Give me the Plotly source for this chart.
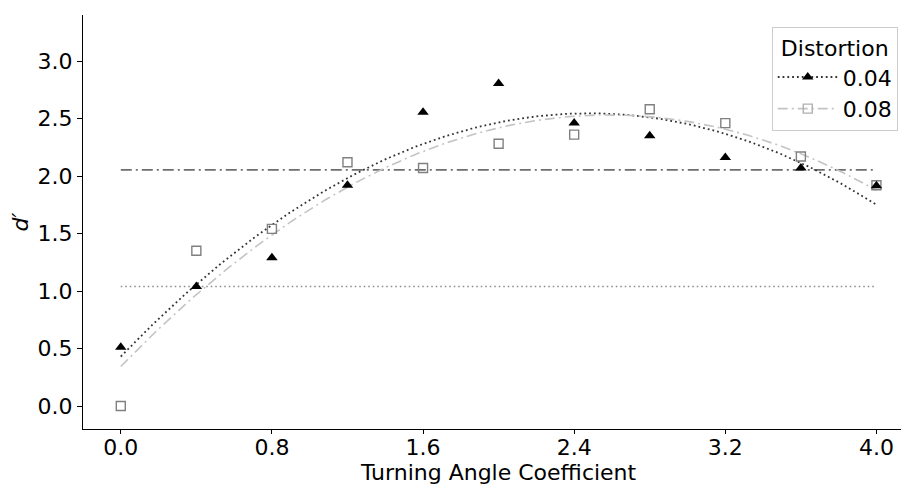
import numpy as np
import plotly.graph_objects as go

x_vals = [0.0, 0.4, 0.8, 1.2, 1.6, 2.0, 2.4, 2.8, 3.2, 3.6, 4.0]
d_004 = [0.51, 1.04, 1.29, 1.92, 2.555, 2.805, 2.46, 2.35, 2.16, 2.07, 1.915]
d_008 = [0.0, 1.35, 1.54, 2.12, 2.07, 2.28, 2.36, 2.58, 2.46, 2.17, 1.92]
series_names = ["0.04", "0.08"]
ref_dashdot_level = 2.053
ref_dotted_level = 1.04
x_ticks = [0.0, 0.8, 1.6, 2.4, 3.2, 4.0]
y_ticks = [0.0, 0.5, 1.0, 1.5, 2.0, 2.5, 3.0]

FONT = "DejaVu Sans"
xs = np.array(x_vals)
xf = np.linspace(xs.min(), xs.max(), 200)
fit1 = np.polyval(np.polyfit(xs, d_004, 2), xf)
fit2 = np.polyval(np.polyfit(xs, d_008, 2), xf)

DOT = "1.8px,3px"
DASHDOT_LIGHT = "10px,4px,2px,4px"

fig = go.Figure()
fig.add_trace(go.Scatter(x=[xs.min(), xs.max()], y=[ref_dashdot_level] * 2, mode="lines",
                         line=dict(color="#6e6e6e", width=1.6, dash="11px,4px,2px,4px"), showlegend=False))
fig.add_trace(go.Scatter(x=[xs.min(), xs.max()], y=[ref_dotted_level] * 2, mode="lines",
                         line=dict(color="#8a8a8a", width=1.5, dash="1.5px,3px"), showlegend=False))
fig.add_trace(go.Scatter(x=xf, y=fit1, mode="lines",
                         line=dict(color="#333333", width=1.8, dash=DOT), showlegend=False))
fig.add_trace(go.Scatter(x=xf, y=fit2, mode="lines",
                         line=dict(color="#c4c4c4", width=1.6, dash=DASHDOT_LIGHT), showlegend=False))
fig.add_trace(go.Scatter(x=xs, y=d_008, mode="markers",
                         marker=dict(symbol="square-open", size=9, color="#808080", line=dict(width=1.4)),
                         showlegend=False))
fig.add_trace(go.Scatter(x=xs, y=d_004, mode="markers",
                         marker=dict(symbol="triangle-up", size=10, color="black"), showlegend=False))
fig.add_trace(go.Scatter(x=[None], y=[None], mode="lines+markers", name=series_names[0],
                         line=dict(color="#333333", width=1.8, dash=DOT),
                         marker=dict(symbol="triangle-up", size=10, color="black")))
fig.add_trace(go.Scatter(x=[None], y=[None], mode="lines+markers", name=series_names[1],
                         line=dict(color="#c4c4c4", width=1.6, dash=DASHDOT_LIGHT),
                         marker=dict(symbol="square-open", size=9, color="#b0b0b0", line=dict(width=1.4))))

fig.add_annotation(text="Turning Angle Coefficient", xref="paper", yref="paper",
                   x=0.508, y=-0.071, xanchor="center", yanchor="top", showarrow=False,
                   font=dict(family=FONT, size=22, color="black"))

fig.update_layout(
    width=901, height=485,
    margin=dict(l=83, r=0, t=15, b=56, autoexpand=False),
    plot_bgcolor="white", paper_bgcolor="white",
    font=dict(family=FONT, size=22, color="black"),
    xaxis=dict(range=[-0.2, 4.13], tickvals=x_ticks, tickformat=".1f",
               showgrid=False, zeroline=False, showline=True, linecolor="black", linewidth=1.3,
               ticks="outside", ticklen=4, tickcolor="black", tickfont=dict(size=22),
               ticklabelstandoff=-6, automargin=False),
    yaxis=dict(range=[-0.2, 3.4], tickvals=y_ticks, tickformat=".1f",
               showgrid=False, zeroline=False, showline=True, linecolor="black", linewidth=1.3,
               ticks="outside", ticklen=5, tickcolor="black", tickfont=dict(size=22),
               automargin=False,
               title=dict(text="<i>d′</i>", standoff=2, font=dict(size=22))),
    legend=dict(x=0.842, y=0.972, xanchor="left", yanchor="top",
                bordercolor="#cccccc", borderwidth=1, bgcolor="rgba(255,255,255,0.8)",
                title=dict(text="Distortion", side="top center", font=dict(size=22)),
                itemwidth=60, font=dict(size=22), tracegroupgap=0),
)
fig.write_html("out.html")
